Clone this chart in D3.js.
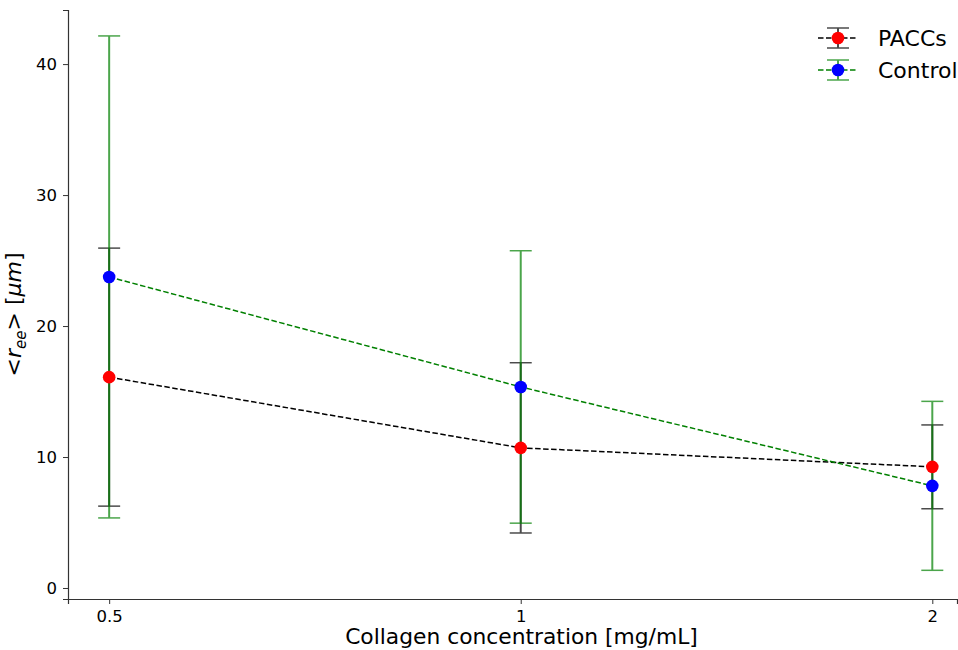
<!DOCTYPE html>
<html>
<head>
<meta charset="utf-8">
<script src="https://cdn.jsdelivr.net/npm/d3@7"></script>
<style>
  body { margin: 0; background: #fff; }
  text { font-family: "DejaVu Sans", sans-serif; }
</style>
</head>
<body>
<div id="chart"></div>
<script>
// data
const concentrations = [0.5, 1, 2];
const paccsMean = [16.1, 10.7, 9.25];
const paccsErr = [9.85, 6.5, 3.2];
const controlMean = [23.75, 15.35, 7.8];
const controlErr = [18.4, 10.4, 6.45];
const yTicks = [0, 10, 20, 30, 40];

const margin = { top: 10, right: 1, bottom: 51, left: 68 },
    width = 958 - margin.left - margin.right,
    height = 650 - margin.top - margin.bottom;

const svg = d3.select("#chart")
    .append("svg")
    .attr("width", 958)
    .attr("height", 650)
    .append("g")
    .attr("transform", "translate(" + margin.left + "," + margin.top + ")");

// x is log2 so the three points are evenly spaced
const x = d3.scaleLog().base(2)
    .domain([0.5 / Math.pow(2, 0.1), 2 * Math.pow(2, 0.06)])
    .range([0, width]);

const y = d3.scaleLinear()
    .domain([-0.84, 44.13])
    .range([height, 0]);

// axes
const xAxis = svg.append("g")
    .attr("transform", "translate(0," + height + ")")
    .call(d3.axisBottom(x).tickValues(concentrations).tickFormat(d3.format("")).tickSizeOuter(0).tickSize(5).tickPadding(6));
const yAxis = svg.append("g")
    .call(d3.axisLeft(y).tickValues(yTicks).tickSizeOuter(0).tickSize(5).tickPadding(6));
[xAxis, yAxis].forEach(a => {
    a.selectAll("text").style("font-size", "16.5px").style("fill", "#000");
    a.select(".domain").style("stroke", "#333").style("stroke-width", 1.2);
    a.selectAll(".tick line").style("stroke", "#333");
});

const series = [
    { name: "PACCs", mean: paccsMean, err: paccsErr, line: "#000", bar: "#000", dot: "red" },
    { name: "Control", mean: controlMean, err: controlErr, line: "green", bar: "green", dot: "blue" }
];

// error bars
series.forEach(s => {
    const g = svg.append("g").attr("opacity", 0.7);
    concentrations.forEach((c, i) => {
        const cx = x(c), lo = y(s.mean[i] - s.err[i]), hi = y(s.mean[i] + s.err[i]);
        g.append("line").attr("x1", cx).attr("x2", cx).attr("y1", lo).attr("y2", hi)
            .attr("stroke", s.bar).attr("stroke-width", 2);
        [lo, hi].forEach(yy => {
            g.append("line").attr("x1", cx - 11).attr("x2", cx + 11).attr("y1", yy).attr("y2", yy)
                .attr("stroke", s.bar).attr("stroke-width", 1.5);
        });
    });
});

// lines and markers
series.forEach(s => {
    const pts = concentrations.map((c, i) => [x(c), y(s.mean[i])]);
    svg.append("path")
        .attr("d", d3.line()(pts))
        .attr("fill", "none")
        .attr("stroke", s.line)
        .attr("stroke-width", 1.5)
        .attr("stroke-dasharray", "5.5,2.5");
    svg.append("g").selectAll("circle")
        .data(pts).enter().append("circle")
        .attr("cx", d => d[0]).attr("cy", d => d[1])
        .attr("r", 6.3).attr("fill", s.dot);
});

// axis labels
svg.append("text")
    .attr("text-anchor", "middle")
    .attr("x", width / 2 + 9)
    .attr("y", height + 45)
    .style("font-size", "21.8px")
    .text("Collagen concentration [mg/mL]");

const yl = svg.append("text")
    .attr("text-anchor", "middle")
    .attr("transform", "translate(" + (-47) + "," + (height / 2 + 10) + ") rotate(-90)")
    .style("font-size", "22px");
yl.append("tspan").text("<");
yl.append("tspan").style("font-style", "italic").text("r");
yl.append("tspan").attr("dy", 5).style("font-size", "15px").style("font-style", "italic").text("ee");
yl.append("tspan").attr("dy", -5).text("> [");
yl.append("tspan").style("font-style", "italic").text("μm");
yl.append("tspan").text("]");

// legend
const legend = svg.append("g")
    .selectAll("g")
    .data(series)
    .enter().append("g")
    .attr("transform", (d, i) => "translate(" + (750) + "," + (28 + i * 32) + ")");
legend.append("line").attr("x1", 0).attr("x2", 40).attr("y1", 0).attr("y2", 0)
    .attr("stroke", d => d.line).attr("stroke-width", 1.5).attr("stroke-dasharray", "5.5,2.5");
legend.each(function (d) {
    const g = d3.select(this).append("g").attr("opacity", 0.7);
    g.append("line").attr("x1", 20).attr("x2", 20).attr("y1", -10).attr("y2", 10).attr("stroke", d.bar).attr("stroke-width", 2);
    [-10, 10].forEach(yy => g.append("line").attr("x1", 9).attr("x2", 31).attr("y1", yy).attr("y2", yy)
        .attr("stroke", d.bar).attr("stroke-width", 1.5));
});
legend.append("circle").attr("cx", 20).attr("cy", 0).attr("r", 6.3).attr("fill", d => d.dot);
legend.append("text")
    .attr("x", 60).attr("y", 0).attr("dy", "0.35em")
    .style("font-size", "22px")
    .text(d => d.name);
</script>
</body>
</html>
